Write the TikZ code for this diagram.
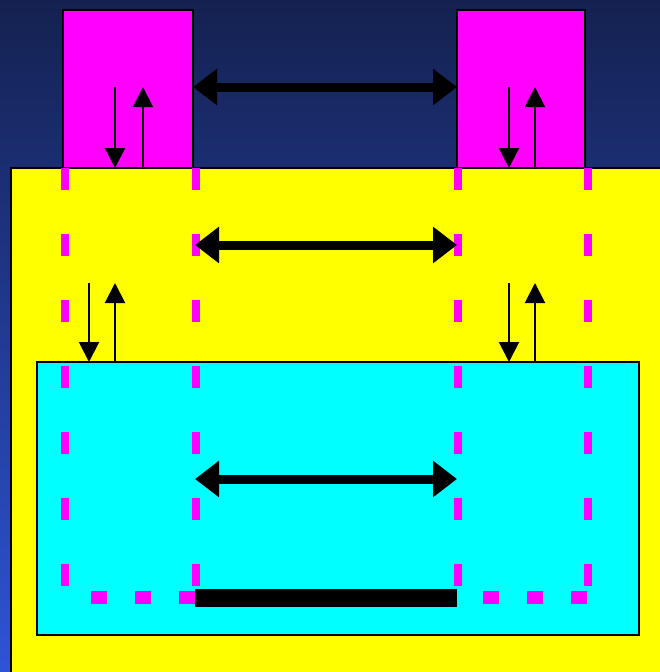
\documentclass[tikz,border=0pt]{standalone}
\usetikzlibrary{arrows.meta}
\definecolor{navytop}{RGB}{20,33,80}
\definecolor{navybot}{RGB}{46,84,214}
\definecolor{hostpink}{RGB}{255,0,255}
\definecolor{memyellow}{RGB}{255,255,0}
\definecolor{cachecyan}{RGB}{0,255,255}
\tikzset{
  box/.style={draw=black,line width=1.5pt,anchor=north west,inner sep=0pt,outer sep=0pt},
  thinarrow/.style={line width=2pt,-{Triangle[length=20pt,width=20pt]}},
  bigarrow/.style={line width=9pt,{Triangle[length=24pt,width=35pt]}-{Triangle[length=24pt,width=35pt]}},
  vdash/.style={draw=hostpink,line width=8pt,dash pattern=on 22pt off 44pt},
  hdash/.style={draw=hostpink,line width=13pt,dash pattern=on 16pt off 28pt},
}
\begin{document}
\begin{tikzpicture}[x=1pt,y=-1pt]
  \useasboundingbox (0,0) rectangle (660,672);
  \shade[top color=navytop,bottom color=navybot] (0,0) rectangle (660,672);

  % boxes
  \node[box,fill=memyellow,minimum width=680pt,minimum height=530pt] (mem) at (11,168) {};
  \node[box,fill=hostpink,minimum width=130pt,minimum height=158pt] (hostA) at (63,10) {};
  \node[box,fill=hostpink,minimum width=128pt,minimum height=158pt] (hostB) at (457,10) {};
  \node[box,fill=cachecyan,minimum width=602pt,minimum height=273pt] (cache) at (37,362) {};

  % dashed outlines
  \foreach \x in {64.5,195.5,457.5,587.5}
    \draw[vdash] (\x,168) -- (\x,590);
  \draw[hdash] (91,597.5) -- (195,597.5);
  \draw[hdash] (483,597.5) -- (590,597.5);
  \node[fill=black,anchor=north west,inner sep=0pt,minimum width=262pt,minimum height=18pt] (bar) at (195,589) {};

  % transfers
  \draw[bigarrow] (hostA.east |- 0,87) -- (hostB.west |- 0,87);
  \coordinate (midL) at (195,245);
  \coordinate (midR) at (457,245);
  \draw[bigarrow] (midL) -- (midR);
  \coordinate (lowL) at (195,479);
  \coordinate (lowR) at (457,479);
  \draw[bigarrow] (lowL) -- (lowR);

  \coordinate (aDn) at (115,87);
  \coordinate (aUp) at (143,87);
  \coordinate (bDn) at (509,87);
  \coordinate (bUp) at (535,87);
  \draw[thinarrow] (aDn) -- (aDn |- hostA.south);
  \draw[thinarrow] (aUp |- hostA.south) -- (aUp);
  \draw[thinarrow] (bDn) -- (bDn |- hostB.south);
  \draw[thinarrow] (bUp |- hostB.south) -- (bUp);

  \coordinate (cDn) at (89,283);
  \coordinate (cUp) at (115,283);
  \coordinate (dDn) at (509,283);
  \coordinate (dUp) at (535,283);
  \draw[thinarrow] (cDn) -- (cDn |- cache.north);
  \draw[thinarrow] (cUp |- cache.north) -- (cUp);
  \draw[thinarrow] (dDn) -- (dDn |- cache.north);
  \draw[thinarrow] (dUp |- cache.north) -- (dUp);
\end{tikzpicture}
\end{document}
